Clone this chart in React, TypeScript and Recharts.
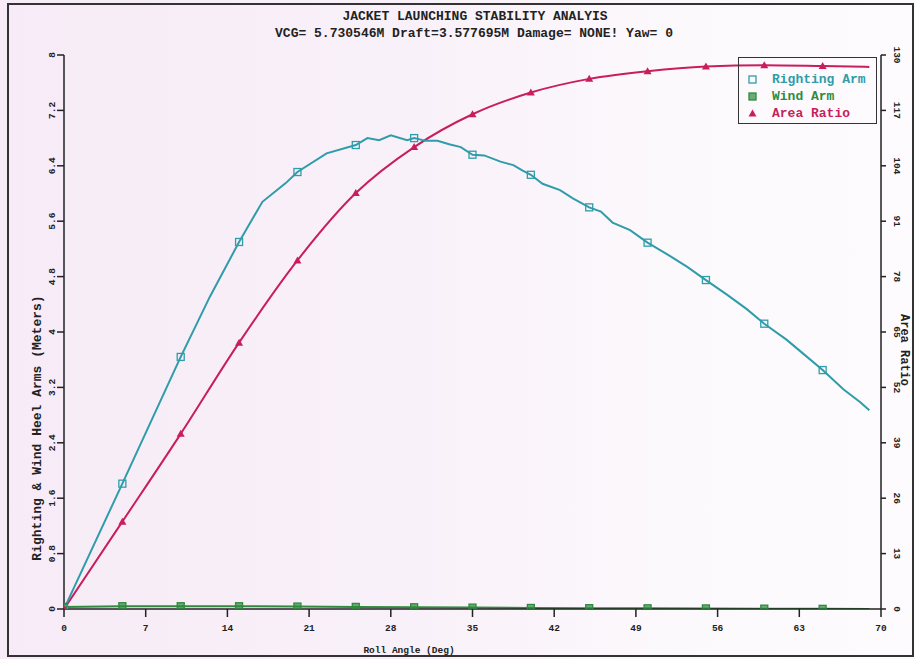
import React from 'react';
import { LineChart, Line, XAxis, YAxis } from 'recharts';

const xTicks = [0, 7, 14, 21, 28, 35, 42, 49, 56, 63, 70];
const leftTicks = [0, 0.8, 1.6, 2.4, 3.2, 4, 4.8, 5.6, 6.4, 7.2, 8];
const rightTicks = [0, 13, 26, 39, 52, 65, 78, 91, 104, 117, 130];

const rightingAngles = [0, 5, 10, 12.5, 15, 17, 19, 20, 22.5, 25, 26, 27, 28, 29.4, 30, 31, 32, 33, 34, 35, 36, 37.4, 38.5, 39.3, 40, 41, 42.5, 43.6, 45, 46, 47, 48.5, 50, 51.9, 53.4, 55, 56.8, 58.5, 60, 61.9, 63.1, 65, 66.8, 68.2, 69];
const rightingArm = [0, 1.81, 3.64, 4.51, 5.3, 5.88, 6.15, 6.31, 6.58, 6.7, 6.8, 6.77, 6.84, 6.77, 6.8, 6.76, 6.76, 6.71, 6.67, 6.56, 6.55, 6.46, 6.41, 6.33, 6.27, 6.14, 6.05, 5.93, 5.8, 5.74, 5.58, 5.47, 5.29, 5.1, 4.94, 4.75, 4.54, 4.33, 4.12, 3.89, 3.72, 3.45, 3.17, 2.99, 2.87];

const windAngles = [0, 5, 10, 15, 20, 25, 30, 35, 40, 45, 50, 55, 60, 65, 69];
const windArm = [0.03, 0.04, 0.04, 0.04, 0.035, 0.03, 0.025, 0.02, 0.015, 0.012, 0.01, 0.008, 0.005, 0.002, 0];

const areaAngles = [0, 5, 10, 15, 20, 25, 30, 35, 40, 45, 50, 55, 60, 65, 69];
const areaRatio = [0, 20.5, 41.1, 62.5, 81.8, 97.6, 108.4, 116.1, 121.2, 124.4, 126.2, 127.3, 127.6, 127.4, 127.2];

const seriesNames = ['Righting Arm', 'Wind Arm', 'Area Ratio'];
const TEAL = '#2f9caa';
const GREEN = '#2e8b3c';
const RED = '#c81e5c';
const AXIS = '#222';
const FONT = '"Liberation Mono", "DejaVu Sans Mono", monospace';

const rightingData = rightingAngles.map((a, i) => ({ angle: a, value: rightingArm[i] }));
const windData = windAngles.map((a, i) => ({ angle: a, value: windArm[i] }));
const areaData = areaAngles.map((a, i) => ({ angle: a, value: areaRatio[i] }));

const isMarker = (p: any) => p && p.payload && p.payload.angle % 5 === 0;

const SquareDot = (props: any) => {
  const { cx, cy } = props;
  if (!isMarker(props) || cx == null) return <g key={props.key} />;
  return <rect key={props.key} x={cx - 3.5} y={cy - 3.5} width={7} height={7} fill="none" stroke={TEAL} strokeWidth={1.3} />;
};
const WindDot = (props: any) => {
  const { cx, cy } = props;
  if (!isMarker(props) || cx == null) return <g key={props.key} />;
  return (
    <g key={props.key}>
      <rect x={cx - 3.5} y={cy - 3.5} width={7} height={7} fill={GREEN} fillOpacity={0.7} stroke={GREEN} strokeWidth={1.3} />
    </g>
  );
};
const TriDot = (props: any) => {
  const { cx, cy } = props;
  if (!isMarker(props) || cx == null) return <g key={props.key} />;
  return <path key={props.key} d={`M${cx},${cy - 4} L${cx + 4},${cy + 3} L${cx - 4},${cy + 3} Z`} fill={RED} />;
};

const XTick = (props: any) => {
  const { x, y, payload } = props;
  return (
    <text x={x} y={y + 12} textAnchor="middle" fontSize={9.5} fontWeight="bold" fontFamily={FONT} fill={AXIS}>
      {payload.value}
    </text>
  );
};
const LeftTick = (props: any) => {
  const { x, y, payload } = props;
  const bx = x;
  return (
    <text x={bx} y={y} transform={`rotate(-90, ${bx}, ${y})`} textAnchor="middle" fontSize={9.5} fontWeight="bold" fontFamily={FONT} fill={AXIS}>
      {payload.value}
    </text>
  );
};
const RightTick = (props: any) => {
  const { x, y, payload } = props;
  const bx = x + 6;
  return (
    <text x={bx} y={y} transform={`rotate(90, ${bx}, ${y})`} textAnchor="middle" fontSize={9.5} fontWeight="bold" fontFamily={FONT} fill={AXIS}>
      {payload.value}
    </text>
  );
};

const legendColors = [TEAL, GREEN, RED];

const LegendMarker = ({ i }: { i: number }) => {
  if (i === 0) return <rect x={1} y={1} width={7} height={7} fill="none" stroke={TEAL} strokeWidth={1.3} />;
  if (i === 1) return <rect x={1} y={1} width={7} height={7} fill={GREEN} fillOpacity={0.7} stroke={GREEN} strokeWidth={1.3} />;
  return <path d="M4.5,0.5 L8.5,7.5 L0.5,7.5 Z" fill={RED} />;
};

export default function App() {
  return (
    <div
      style={{
        position: 'absolute',
        left: 0,
        top: 0,
        width: 915,
        height: 659,
        overflow: 'hidden',
        background: 'linear-gradient(to right, #f6ebf6 0%, #f9f1f9 45%, #fcf9fc 75%, #fdfbfd 100%)',
      }}
    >
      <div style={{ position: 'absolute', left: 0, top: 0 }}>
        <LineChart width={915} height={659} margin={{ top: 55, right: 0, bottom: 0, left: 0 }}>
          <XAxis
            type="number"
            dataKey="angle"
            domain={[0, 70]}
            ticks={xTicks}
            interval={0}
            allowDataOverflow
            height={50}
            tickSize={8}
            tick={<XTick />}
            stroke={AXIS}
            strokeWidth={1.5}
            allowDuplicatedCategory={false}
          />
          <YAxis
            yAxisId="left"
            orientation="left"
            domain={[0, 8]}
            ticks={leftTicks}
            interval={0}
            allowDataOverflow
            width={64}
            tickSize={7}
            tick={<LeftTick />}
            stroke={AXIS}
            strokeWidth={1.5}
          />
          <YAxis
            yAxisId="right"
            orientation="right"
            domain={[0, 130]}
            ticks={rightTicks}
            interval={0}
            allowDataOverflow
            width={34}
            tickSize={5}
            tick={<RightTick />}
            stroke={AXIS}
            strokeWidth={1.5}
          />
          <Line
            data={windData}
            dataKey="value"
            name={seriesNames[1]}
            yAxisId="left"
            type="linear"
            stroke={GREEN}
            strokeWidth={2}
            dot={<WindDot />}
            isAnimationActive={false}
          />
          <Line
            data={areaData}
            dataKey="value"
            name={seriesNames[2]}
            yAxisId="right"
            type="monotone"
            stroke={RED}
            strokeWidth={2}
            dot={<TriDot />}
            isAnimationActive={false}
          />
          <Line
            data={rightingData}
            dataKey="value"
            name={seriesNames[0]}
            yAxisId="left"
            type="linear"
            stroke={TEAL}
            strokeWidth={2}
            dot={<SquareDot />}
            isAnimationActive={false}
          />
        </LineChart>
      </div>

      <svg width={915} height={659} style={{ position: 'absolute', left: 0, top: 0, pointerEvents: 'none' }}>
        <rect x={8} y={4} width={905} height={652} fill="none" stroke="#333" strokeWidth={2} />
        <text x={475} y={20} textAnchor="middle" fontSize={13} fontWeight="bold" fontFamily={FONT} fill="#222">
          JACKET LAUNCHING STABILITY ANALYIS
        </text>
        <text x={474} y={37} textAnchor="middle" fontSize={13} fontWeight="bold" fontFamily={FONT} fill="#222">
          VCG= 5.730546M Draft=3.577695M Damage= NONE! Yaw= 0
        </text>
        <text x={409} y={653} textAnchor="middle" fontSize={9.5} fontWeight="bold" fontFamily={FONT} fill="#222">
          Roll Angle (Deg)
        </text>
        <text x={41} y={428} transform="rotate(-90, 41, 428)" textAnchor="middle" fontSize={13} fontWeight="bold" fontFamily={FONT} fill="#222">
          Righting &amp; Wind Heel Arms (Meters)
        </text>
        <text x={901} y={350} transform="rotate(90, 901, 350)" textAnchor="middle" fontSize={12} fontWeight="bold" fontFamily={FONT} fill="#222">
          Area Ratio
        </text>
      </svg>

      <div
        style={{
          position: 'absolute',
          left: 738,
          top: 57,
          width: 139,
          height: 67,
          border: '1.5px solid #333',
          boxSizing: 'border-box',
          paddingTop: 13,
        }}
      >
        {seriesNames.map((n, i) => (
          <div key={n} style={{ display: 'flex', alignItems: 'center', height: 17 }}>
            <svg width={10} height={9} style={{ marginLeft: 9, marginRight: 14 }}>
              <LegendMarker i={i} />
            </svg>
            <span style={{ fontFamily: FONT, fontSize: 13, fontWeight: 'bold', color: legendColors[i], whiteSpace: 'nowrap' }}>{n}</span>
          </div>
        ))}
      </div>
    </div>
  );
}
